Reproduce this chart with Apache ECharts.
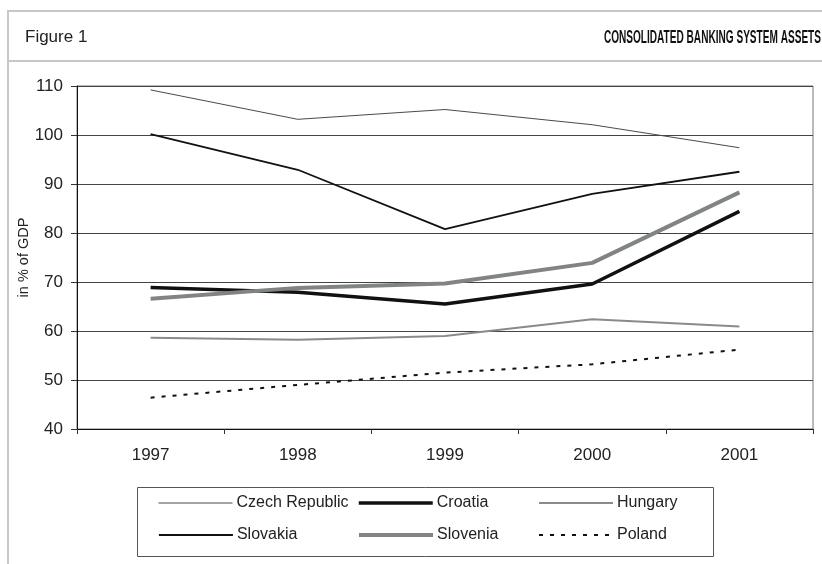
<!DOCTYPE html>
<html>
<head>
<meta charset="utf-8">
<script src="https://cdn.jsdelivr.net/npm/echarts@6/dist/echarts.min.js"></script>
<style>
  html, body { margin: 0; padding: 0; background: #fff; }
  #chart { width: 822px; height: 564px; }
</style>
</head>
<body>
<div id="chart"></div>
<script>
// Banking system assets, in % of GDP
const years = ['1997', '1998', '1999', '2000', '2001'];
const czechRepublic = [109.2, 103.2, 105.2, 102.1, 97.4];
const croatia       = [68.9, 67.9, 65.5, 69.6, 84.4];
const hungary       = [58.6, 58.2, 59.0, 62.4, 60.9];
const slovakia      = [100.2, 92.9, 80.8, 88.0, 92.5];
const slovenia      = [66.6, 68.8, 69.7, 73.9, 88.3];
const poland        = [46.4, 49.0, 51.5, 53.2, 56.2];
const yTicks = { min: 40, max: 110, step: 10 };

const FONT = '"Liberation Sans", Arial, sans-serif';

const seriesDefs = [
  { name: 'Czech Republic', data: czechRepublic, color: '#4a4a4a', width: 1,   type: 'solid' },
  { name: 'Croatia',        data: croatia,       color: '#111111', width: 3.5, type: 'solid' },
  { name: 'Hungary',        data: hungary,       color: '#8a8a8a', width: 2,   type: 'solid' },
  { name: 'Slovakia',       data: slovakia,      color: '#111111', width: 1.8, type: 'solid' },
  { name: 'Slovenia',       data: slovenia,      color: '#808485', width: 4,   type: 'solid' },
  { name: 'Poland',         data: poland,        color: '#111111', width: 2,   type: [4, 7] }
];

// legend slots: three columns, two rows
const legendCols = [158, 357, 538];
const legendRows = [504, 536];

const legends = seriesDefs.map((s, i) => ({
  data: [s.name],
  left: legendCols[i % 3],
  top: legendRows[Math.floor(i / 3)] - 9,
  padding: 0,
  itemWidth: 74,
  itemHeight: 18,
  selectedMode: false,
  itemStyle: { color: 'transparent', borderColor: 'transparent', borderWidth: 0, opacity: 0 },
  lineStyle: { width: s.width, color: s.color, type: s.type },
  textStyle: { fontFamily: FONT, fontSize: 16, color: '#222', padding: [0, 0, 0, -1] }
}));

const chart = echarts.init(document.getElementById('chart'), null, { renderer: 'canvas' });

chart.setOption({
  animation: false,
  backgroundColor: '#fff',
  grid: {
    left: 77, right: 9, top: 86, bottom: 135,
    show: true, borderColor: '#777', borderWidth: 1, backgroundColor: 'transparent'
  },
  legend: legends,
  xAxis: {
    type: 'category',
    data: years,
    boundaryGap: true,
    axisLine: { lineStyle: { color: '#111', width: 1 } },
    axisTick: { show: true, length: 5, lineStyle: { color: '#333' } },
    axisLabel: { fontFamily: FONT, fontSize: 17, color: '#222', margin: 18 },
    splitLine: { show: false }
  },
  yAxis: {
    type: 'value',
    min: yTicks.min, max: yTicks.max, interval: yTicks.step,
    name: 'in % of GDP',
    nameLocation: 'middle',
    nameGap: 46,
    nameRotate: 90,
    nameMoveOverlap: false,
    nameTextStyle: { fontFamily: FONT, fontSize: 14.5, color: '#222' },
    axisLine: { show: true, lineStyle: { color: '#111', width: 1 } },
    axisTick: { show: true, length: 6, lineStyle: { color: '#333' } },
    axisLabel: { fontFamily: FONT, fontSize: 17, color: '#222', margin: 14 },
    splitLine: { show: true, lineStyle: { color: '#444', width: 1 } }
  },
  series: seriesDefs.map(s => ({
    name: s.name,
    type: 'line',
    data: s.data,
    symbol: 'none',
    smooth: false,
    color: s.color,
    lineStyle: { color: s.color, width: s.width, type: s.type, cap: 'butt' },
    emphasis: { disabled: true }
  })),
  graphic: [
    // page frame
    { type: 'line', shape: { x1: 7, y1: 11, x2: 822, y2: 11 }, style: { stroke: '#c8c8c8', lineWidth: 2 }, silent: true },
    { type: 'line', shape: { x1: 8, y1: 10, x2: 8, y2: 564 }, style: { stroke: '#c8c8c8', lineWidth: 2 }, silent: true },
    { type: 'line', shape: { x1: 8, y1: 61, x2: 822, y2: 61 }, style: { stroke: '#c8c8c8', lineWidth: 2 }, silent: true },
    // header texts
    { type: 'text', left: 25, top: 29, style: { text: 'Figure 1', font: '17px ' + FONT, fill: '#222' }, silent: true },
    { type: 'text', x: 821, y: 38, scaleX: 0.56, scaleY: 1,
      style: { text: 'CONSOLIDATED BANKING SYSTEM ASSETS', font: 'bold 18px ' + FONT, fill: '#111', align: 'right', verticalAlign: 'middle' }, silent: true },
    // legend frame
    { type: 'rect', shape: { x: 137.5, y: 487.5, width: 576, height: 69 }, style: { fill: 'none', stroke: '#555', lineWidth: 1 }, silent: true, z: -1 }
  ]
});
</script>
</body>
</html>
